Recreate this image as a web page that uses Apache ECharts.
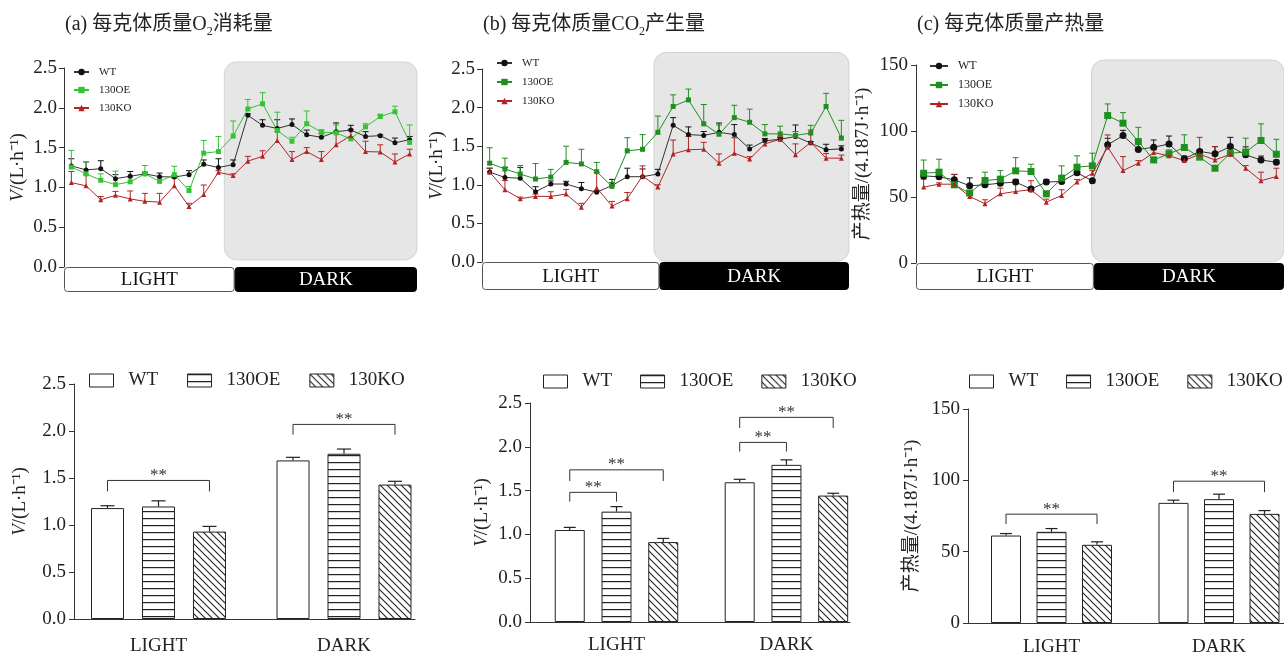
<!DOCTYPE html>
<html><head><meta charset="utf-8">
<script src="https://cdn.jsdelivr.net/npm/echarts/dist/echarts.min.js"></script>
<style>html,body{margin:0;padding:0;background:#fff}.p{position:absolute;left:0;top:0;width:1284px;height:652px}</style>
</head><body>
<div id="pa" class="p"></div><div id="pb" class="p"></div><div id="pc" class="p"></div>
<div id="pd" class="p"></div><div id="pe" class="p"></div><div id="pf" class="p"></div>
<script>
// ---------- data ----------
const hours = [0,1,2,3,4,5,6,7,8,9,10,11,12,13,14,15,16,17,18,19,20,21,22,23];
const groups = ['WT','130OE','130KO'];
const phases = ['LIGHT','DARK'];

// (a) O2 consumption per gram body mass
const o2WT    = [1.27,1.22,1.235,1.11,1.14,1.17,1.135,1.13,1.16,1.29,1.25,1.285,1.905,1.78,1.74,1.79,1.66,1.63,1.70,1.72,1.64,1.65,1.56,1.60];
const o2WTErr = [0.09,0.10,0.10,0.05,0.06,0.02,0.045,0.02,0.05,0.055,0.11,0.06,0.02,0.07,0.11,0.07,0.06,0.045,0.11,0.06,0.06,0.01,0.06,0.04];
const o2OE    = [1.255,1.17,1.09,1.035,1.07,1.17,1.075,1.16,0.96,1.43,1.45,1.645,1.985,2.05,1.715,1.58,1.80,1.695,1.685,1.61,1.76,1.89,1.95,1.565];
const o2OEErr = [0.21,0.155,0.08,0.17,0.06,0.105,0.05,0.105,0.05,0.16,0.19,0.19,0.12,0.14,0.23,0.05,0.16,0.03,0.10,0.03,0.04,0.03,0.07,0.22];
const o2KO    = [1.06,1.02,0.845,0.90,0.855,0.825,0.815,1.02,0.76,0.91,1.19,1.15,1.33,1.39,1.59,1.35,1.45,1.35,1.535,1.65,1.45,1.445,1.32,1.42];
const o2KOErr = [0.14,0.14,0.04,0.05,0.10,0.10,0.11,0.10,0.04,0.12,0.02,0.02,0.06,0.07,0.11,0.10,0.05,0.10,0.17,0.08,0.13,0.09,0.10,0.06];

// (b) CO2 production per gram body mass
const co2WT    = [1.165,1.095,1.085,0.91,1.01,1.01,0.95,0.905,0.99,1.105,1.105,1.14,1.77,1.65,1.64,1.68,1.65,1.465,1.57,1.59,1.625,1.54,1.455,1.465];
const co2WTErr = [0.05,0.13,0.14,0.065,0.04,0.035,0.08,0.02,0.08,0.11,0.10,0.06,0.10,0.10,0.05,0.12,0.13,0.05,0.03,0.02,0.15,0.02,0.07,0.04];
const co2OE    = [1.28,1.205,1.14,1.075,1.10,1.29,1.27,1.17,0.98,1.44,1.46,1.68,2.015,2.10,1.79,1.655,1.87,1.81,1.66,1.66,1.64,1.67,2.015,1.605];
const co2OEErr = [0.20,0.14,0.11,0.20,0.10,0.21,0.19,0.12,0.05,0.17,0.19,0.21,0.15,0.14,0.25,0.12,0.16,0.17,0.12,0.10,0.05,0.10,0.17,0.23];
const co2KO    = [1.165,0.935,0.82,0.85,0.85,0.88,0.71,0.96,0.725,0.82,1.115,0.97,1.40,1.455,1.46,1.28,1.41,1.335,1.53,1.59,1.39,1.55,1.345,1.345];
const co2KOErr = [0.05,0.12,0.02,0.03,0.06,0.06,0.05,0.20,0.06,0.08,0.13,0.03,0.18,0.17,0.09,0.12,0.20,0.03,0.06,0.04,0.14,0.16,0.06,0.04];

// (c) heat production per gram body mass
const hWT    = [66,65.3,63,58.5,59.2,60.5,61.3,56,61.3,61.8,68.3,62.3,89.5,96.5,86,87.7,90.2,79,84.5,82.7,88.2,82,78,76.4];
const hWTErr = [3,3,4,6,2,2,2,1.5,2,4,3.5,1,5,4,7,5.5,6,2,1.3,5.5,7,6,3,1.5];
const hOE    = [68,68.8,59.2,53,62.5,63.5,69.8,69.3,52.4,64.3,72.6,73.6,111.7,105.9,92,78.1,82.7,87.5,80.2,71.8,83.2,84,92.8,82.4];
const hOEErr = [10,9.8,2,2,6.3,6.5,10,5.5,2,9.3,8.6,9.6,8.8,8,10.8,2,3,9.6,2,2,6.3,10.6,12.6,11.3];
const hKO    = [57.5,59.7,59.7,50.4,44.9,52.4,54.2,55.5,46.1,51.2,61.3,68,87.7,70,75.6,83.7,81.2,77.6,82.4,78.1,82.4,71.8,62.3,65.5];
const hKOErr = [6,1,7.5,1,3,4.3,8.3,6.8,2.3,4.3,2,2,9.3,10.6,2,2,1,1,12.8,10,2,2,6.5,6.3];

// bar summaries [LIGHT, DARK]
const o2BarWT = [1.18,1.687],  o2BarWTErr = [0.025,0.033];
const o2BarOE = [1.197,1.758], o2BarOEErr = [0.06,0.05];
const o2BarKO = [0.93,1.43],   o2BarKOErr = [0.055,0.035];
const co2BarWT = [1.05,1.595],  co2BarWTErr = [0.03,0.034];
const co2BarOE = [1.26,1.794],  co2BarOEErr = [0.057,0.057];
const co2BarKO = [0.912,1.443], co2BarKOErr = [0.042,0.027];
const hBarWT = [61.3,84.2], hBarWTErr = [1.4,1.9];
const hBarOE = [63.9,86.8], hBarOEErr = [2.3,3.5];
const hBarKO = [54.8,76.5], hBarKOErr = [2.1,2.3];

// significance brackets: [phase, fromGroup, toGroup, bracketTop, legEnd]
const o2Sig  = [[0,0,2,1.474,1.357],[1,0,2,2.07,1.96]];
const co2Sig = [[0,0,1,1.48,1.374],[0,0,2,1.737,1.61],[1,0,1,2.05,1.946],[1,0,2,2.336,2.214]];
const hSig   = [[0,0,2,76.3,69.3],[1,0,2,99.4,91.7]];

// ---------- helpers ----------
const SERIF = '"Liberation Serif","Times New Roman","Noto Sans CJK SC",serif';
const TXT = '#222';

function hPattern(){
  const c=document.createElement('canvas'); c.width=8; c.height=7;
  const g=c.getContext('2d'); g.fillStyle='#fff'; g.fillRect(0,0,8,7);
  g.fillStyle='#222'; g.fillRect(0,0,8,1.2); return c;
}
function dPattern(){
  const s=7; const c=document.createElement('canvas'); c.width=s; c.height=s;
  const g=c.getContext('2d'); g.fillStyle='#fff'; g.fillRect(0,0,s,s);
  g.strokeStyle='#222'; g.lineWidth=1.1; g.beginPath();
  g.moveTo(-1,-1); g.lineTo(s+1,s+1);
  g.moveTo(s-1,-1); g.lineTo(s+1,1);
  g.moveTo(-1,s-1); g.lineTo(1,s+1);
  g.stroke(); return c;
}
const barFills = ['#ffffff', {image:hPattern(), repeat:'repeat'}, {image:dPattern(), repeat:'repeat'}];

function yAxisBase(cfg){
  return {
    type:'value', min:0, max:cfg.yMax, interval:cfg.yInt,
    axisLine:{show:true, onZero:false, lineStyle:{color:'#333', width:1}},
    axisTick:{show:true, length:5, lineStyle:{color:'#333'}},
    splitLine:{show:false},
    axisLabel:{fontFamily:SERIF, fontSize:19, color:TXT, margin:cfg.labelMargin||7,
      formatter:v=>v.toFixed(cfg.digits)},
    name:cfg.yName, nameLocation:'middle', nameRotate:90, nameGap:cfg.nameGap,
    nameTextStyle:{fontFamily:SERIF, fontSize:19, color:TXT,
      rich:{i:{fontStyle:'italic', fontFamily:SERIF, fontSize:19, color:TXT}}}
  };
}

function mkTop(id, cfg){
  const chart = echarts.init(document.getElementById(id));
  const series = [];
  // dark-phase shading
  series.push({type:'custom', xAxisIndex:0, yAxisIndex:0, z:0, silent:true, clip:false,
    data:[cfg.shade],
    renderItem:(p,api)=>{
      const a=api.coord([api.value(0), api.value(3)]);
      const b=api.coord([api.value(2), api.value(1)]);
      return {type:'rect', shape:{x:a[0], y:a[1], width:b[0]-a[0], height:b[1]-a[1], r:12},
        style:{fill:'#e6e6e6', stroke:'#d2d2d2', lineWidth:1}};
    }});
  // LIGHT / DARK boxes
  series.push({type:'custom', xAxisIndex:1, yAxisIndex:1, silent:true, clip:false,
    data:[[-0.5, cfg.split, 0],[cfg.split, 23.5, 1]],
    renderItem:(p,api)=>{
      const k=api.value(2);
      const a=api.coord([api.value(0),1]), b=api.coord([api.value(1),0]);
      return {type:'group', children:[
        {type:'rect', shape:{x:a[0]+0.5, y:a[1]+0.5, width:b[0]-a[0]-1, height:b[1]-a[1]-1, r:3},
          style:{fill:k?'#000':'#fff', stroke:k?'#000':'#555', lineWidth:1}},
        {type:'text', style:{text:phases[k], x:(a[0]+b[0])/2, y:(a[1]+b[1])/2+1, align:'center',
          verticalAlign:'middle', fill:k?'#fff':'#111', font:'19px '+SERIF}}
      ]};
    }});
  cfg.series.forEach((s,k)=>{
    series.push({type:'custom', name:s.name+' err', xAxisIndex:0, yAxisIndex:0, z:2, silent:true,
      data:hours.map((h,i)=>[h, s.vals[i], s.errs[i]]),
      renderItem:(p,api)=>{
        const m=api.value(1), e=api.value(2);
        const a=api.coord([api.value(0), m]), b=api.coord([api.value(0), m+e]);
        return {type:'group', children:[
          {type:'line', shape:{x1:a[0],y1:a[1],x2:b[0],y2:b[1]}, style:{stroke:s.color, lineWidth:1}},
          {type:'line', shape:{x1:b[0]-3,y1:b[1],x2:b[0]+3,y2:b[1]}, style:{stroke:s.color, lineWidth:1}}
        ]};
      }});
  });
  cfg.series.forEach((s,k)=>{
    series.push({type:'line', name:s.name, xAxisIndex:0, yAxisIndex:0, z:3,
      data:hours.map((h,i)=>[h, s.vals[i]]),
      symbol:s.symbol, symbolSize:s.size, showSymbol:true,
      lineStyle:{color:s.lineColor||s.color, width:1},
      itemStyle:{color:s.color}});
  });
  chart.setOption({
    animation:false,
    title:{text:cfg.title, left:cfg.titleLeft, top:12, padding:0,
      textStyle:{fontFamily:SERIF, fontSize:20, fontWeight:'normal', color:TXT, lineHeight:26,
        rich:{sub:{fontFamily:SERIF, fontSize:12, color:TXT, lineHeight:12, verticalAlign:'bottom'}}}},
    legend:{data:groups, orient:'vertical', left:cfg.legend[0], top:cfg.legend[1], itemGap:cfg.legend[2],
      itemWidth:cfg.legend[3], itemHeight:8, padding:0,
      textStyle:{fontFamily:SERIF, fontSize:cfg.legend[4], color:TXT, lineHeight:12, padding:[0,0,0,5]}},
    grid:[
      {left:cfg.grid[0], right:cfg.grid[1], top:cfg.grid[2], bottom:652-cfg.grid[3], outerBoundsMode:'none'},
      {left:cfg.grid[0], right:cfg.grid[1], top:cfg.grid[3], height:cfg.boxH, outerBoundsMode:'none'}
    ],
    xAxis:[
      {type:'value', gridIndex:0, min:-0.5, max:23.5, show:false},
      {type:'value', gridIndex:1, min:-0.5, max:23.5, show:false}
    ],
    yAxis:[
      yAxisBase(cfg),
      {type:'value', gridIndex:1, min:0, max:1, show:false}
    ],
    series
  });
}

function mkBottom(id, cfg){
  const chart = echarts.init(document.getElementById(id));
  const step=cfg.step, bw=cfg.barW;
  const series = [];
  cfg.vals.forEach((v,k)=>{
    series.push({type:'bar', name:groups[k], data:phases.map((p,i)=>[i, v[i]]),
      barWidth:bw, barGap:((step-bw)/bw*100).toFixed(1)+'%', z:2,
      itemStyle:{color:barFills[k], borderColor:'#222', borderWidth:1}});
  });
  const errData=[];
  cfg.vals.forEach((v,k)=>phases.forEach((p,i)=>errData.push([i,k,v[i],cfg.errs[k][i]])));
  series.push({type:'custom', z:3, silent:true, clip:false, data:errData,
    renderItem:(p,api)=>{
      const x=api.value(0), k=api.value(1), m=api.value(2), e=api.value(3);
      const a=api.coord([x,m]), b=api.coord([x,m+e]);
      const cx=a[0]+(k-1)*step;
      return {type:'group', children:[
        {type:'line', shape:{x1:cx,y1:a[1],x2:cx,y2:b[1]}, style:{stroke:'#222', lineWidth:1.2}},
        {type:'line', shape:{x1:cx-cfg.cap,y1:b[1],x2:cx+cfg.cap,y2:b[1]}, style:{stroke:'#222', lineWidth:1.2}}
      ]};
    }});
  series.push({type:'custom', z:3, silent:true, clip:false, data:cfg.sig,
    renderItem:(p,api)=>{
      const x=api.value(0), g1=api.value(1), g2=api.value(2);
      const a=api.coord([x, api.value(3)]), b=api.coord([x, api.value(4)]);
      const x1=a[0]+(g1-1)*step, x2=a[0]+(g2-1)*step;
      return {type:'group', children:[
        {type:'polyline', shape:{points:[[x1,b[1]],[x1,a[1]],[x2,a[1]],[x2,b[1]]]},
          style:{stroke:'#333', lineWidth:1, fill:null}},
        {type:'text', style:{text:'**', x:(x1+x2)/2, y:a[1]-5, align:'center', verticalAlign:'middle',
          font:'17px '+SERIF, fill:'#333'}}
      ]};
    }});
  chart.setOption({
    animation:false,
    legend:{data:groups, left:cfg.legend[0], top:cfg.legend[1], itemGap:cfg.legend[2], icon:'rect',
      itemWidth:24, itemHeight:13, padding:0,
      itemStyle:{borderColor:'#222', borderWidth:1},
      textStyle:{fontFamily:SERIF, fontSize:19, color:TXT, padding:[0,0,0,10]}},
    grid:{left:cfg.grid[0], right:cfg.grid[1], top:cfg.grid[2], bottom:652-cfg.grid[3], outerBoundsMode:'none'},
    xAxis:{type:'value', min:cfg.xr[0], max:cfg.xr[1],
      axisLine:{show:true, onZero:false, lineStyle:{color:'#333'}}, axisTick:{show:false}, splitLine:{show:false},
      axisLabel:{customValues:[0,1], formatter:v=>phases[Math.round(v)], fontFamily:SERIF, fontSize:19,
        color:TXT, margin:cfg.xMargin}},
    yAxis:yAxisBase(cfg),
    series
  });
}

// ---------- panels ----------
const greenA='#33c433', greenB='#1f8f1f', red='#b22424', black='#111';
mkTop('pa', {title:'(a) 每克体质量O{sub|2}消耗量', titleLeft:65, grid:[64, 867, 68, 267], boxH:25,
  yMax:2.5, yInt:0.5, digits:1, yName:'{i|V}/(L·h⁻¹)', nameGap:36, labelMargin:7,
  shade:[10.4, 0.09, 23.5, 2.575], split:11.1, legend:[73, 66, 6, 15, 11],
  series:[
    {name:'WT', vals:o2WT, errs:o2WTErr, color:black, lineColor:'#333', symbol:'circle', size:5},
    {name:'130OE', vals:o2OE, errs:o2OEErr, color:greenA, symbol:'rect', size:5},
    {name:'130KO', vals:o2KO, errs:o2KOErr, color:red, symbol:'triangle', size:5}]});
mkTop('pb', {title:'(b) 每克体质量CO{sub|2}产生量', titleLeft:483, grid:[482, 435, 69, 262], boxH:28,
  yMax:2.5, yInt:0.5, digits:1, yName:'{i|V}/(L·h⁻¹)', nameGap:35, labelMargin:7,
  shade:[10.75, 0.01, 23.5, 2.715], split:11.1, legend:[496, 57, 7, 15, 11],
  series:[
    {name:'WT', vals:co2WT, errs:co2WTErr, color:black, lineColor:'#333', symbol:'circle', size:5},
    {name:'130OE', vals:co2OE, errs:co2OEErr, color:greenB, symbol:'rect', size:5},
    {name:'130KO', vals:co2KO, errs:co2KOErr, color:red, symbol:'triangle', size:5}]});
mkTop('pc', {title:'(c) 每克体质量产热量', titleLeft:917, grid:[916, 0, 65, 263], boxH:27,
  yMax:150, yInt:50, digits:0, yName:'产热量/(4.187J·h⁻¹)', nameGap:43, labelMargin:8,
  shade:[10.95, 0.8, 23.5, 153.8], split:11.1, legend:[929, 60, 7, 18, 12],
  series:[
    {name:'WT', vals:hWT, errs:hWTErr, color:black, lineColor:'#333', symbol:'circle', size:7},
    {name:'130OE', vals:hOE, errs:hOEErr, color:greenB, symbol:'rect', size:7},
    {name:'130KO', vals:hKO, errs:hKOErr, color:red, symbol:'triangle', size:5}]});

mkBottom('pd', {grid:[74, 869, 384, 619], xr:[-0.4555, 1.3827], barW:33, step:51, cap:7, xMargin:18,
  yMax:2.5, yInt:0.5, digits:1, yName:'{i|V}/(L·h⁻¹)', nameGap:44, labelMargin:8,
  vals:[o2BarWT, o2BarOE, o2BarKO], errs:[o2BarWTErr, o2BarOEErr, o2BarKOErr], sig:o2Sig,
  legend:[89, 371, 29]});
mkBottom('pe', {grid:[530, 434, 403, 622], xr:[-0.509, 1.374], barW:30, step:46.75, cap:6, xMargin:14,
  yMax:2.5, yInt:0.5, digits:1, yName:'{i|V}/(L·h⁻¹)', nameGap:38, labelMargin:8,
  vals:[co2BarWT, co2BarOE, co2BarKO], errs:[co2BarWTErr, co2BarOEErr, co2BarKOErr], sig:co2Sig,
  legend:[543, 372, 28]});
mkBottom('pf', {grid:[968, 0, 409, 623], xr:[-0.4985, 1.388], barW:30, step:45.5, cap:6, xMargin:15,
  yMax:150, yInt:50, digits:0, yName:'产热量/(4.187J·h⁻¹)', nameGap:46, labelMargin:8,
  vals:[hBarWT, hBarOE, hBarKO], errs:[hBarWTErr, hBarOEErr, hBarKOErr], sig:hSig,
  legend:[969, 372, 28]});
</script>
</body></html>
